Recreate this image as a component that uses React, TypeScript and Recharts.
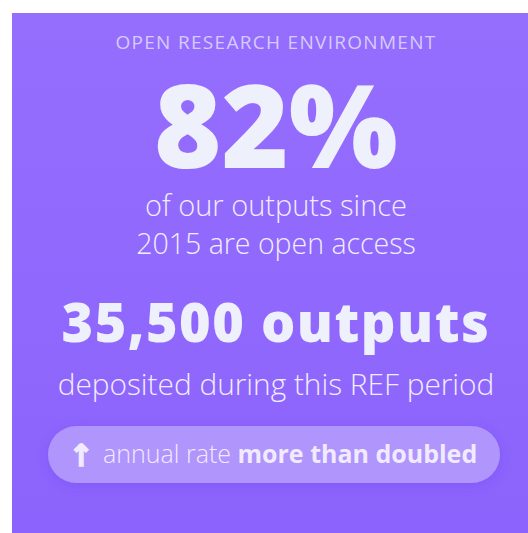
import React from "react";
import { BarChart, Customized } from "recharts";

// ---- content ----
const heading = "OPEN RESEARCH ENVIRONMENT";
const openAccessShare = 82; // percent
const shareCaption = ["of our outputs since", "2015 are open access"];
const outputsDeposited = 35500;
const outputsUnit = "outputs";
const outputsCaption = "deposited during this REF period";
const trendArrow = "\u2191";
const trendPrefix = "annual rate";
const trendEmphasis = "more than doubled";

const W = 528;
const H = 533;
const FONT = "'Open Sans', 'Noto Sans', sans-serif";

const Infographic = () => {
  const cx = 276;
  return (
    <g>
      <defs>
        <linearGradient id="panelGrad" x1="0" y1="0" x2="0" y2="1">
          <stop offset="0%" stopColor="#956efe" />
          <stop offset="100%" stopColor="#8b63fc" />
        </linearGradient>
        <filter id="pillShadow" x="-20%" y="-50%" width="140%" height="200%">
          <feDropShadow dx="0" dy="2" stdDeviation="6" floodColor="#6a3cf0" floodOpacity="0.35" />
        </filter>
      </defs>
      <rect x={12} y={13} width={W} height={H} fill="url(#panelGrad)" />
      <text
        x={cx}
        y={49}
        textAnchor="middle"
        fontFamily={FONT}
        fontSize={19}
        fontWeight={400}
        letterSpacing={1.3}
        fill="#d6cbfb"
      >
        {heading}
      </text>
      <text x={cx} y={168} textAnchor="middle" fontFamily={FONT} fontSize={115} fontWeight={800} fill="#eef0fc">
        {`${openAccessShare}%`}
      </text>
      {shareCaption.map((line, i) => (
        <text
          key={line}
          x={cx}
          y={216 + i * 38}
          textAnchor="middle"
          fontFamily={FONT}
          fontSize={i === 0 ? 29 : 28.5}
          fontWeight={300}
          fill="#f1edfe"
        >
          {line}
        </text>
      ))}
      <text
        x={cx}
        y={342}
        textAnchor="middle"
        fontFamily={FONT}
        fontSize={54}
        fontWeight={800}
        letterSpacing={1.5}
        fill="#eef0fc"
      >
        {`${outputsDeposited.toLocaleString("en-GB")} ${outputsUnit}`}
      </text>
      <text x={cx} y={395} textAnchor="middle" fontFamily={FONT} fontSize={29.8} fontWeight={300} fill="#f1edfe">
        {outputsCaption}
      </text>
      <rect x={48} y={426} width={452} height={57} rx={28.5} fill="#b095fc" filter="url(#pillShadow)" />
      <text
        x={81}
        y={466}
        textAnchor="middle"
        fontFamily="'DejaVu Sans', sans-serif"
        fontSize={30}
        fontWeight={700}
        stroke="#f0ebff"
        strokeWidth={1.4}
        fill="#f0ebff"
      >
        {trendArrow}
      </text>
      <text x={103} y={463} fontFamily={FONT} fontSize={25} fill="#f0ebff">
        <tspan fontWeight={300}>{`${trendPrefix} `}</tspan>
        <tspan fontWeight={700}>{trendEmphasis}</tspan>
      </text>
    </g>
  );
};

export default function App() {
  return (
    <div style={{ width: W, height: H, position: "fixed", left: 0, top: 0, background: "#fff" }}>
      <style>{`html,body{margin:0;padding:0;overflow:hidden;background:#fff}`}</style>
      <BarChart width={W} height={H} data={[]} margin={{ top: 0, right: 0, bottom: 0, left: 0 }}>
        <Customized component={Infographic} />
      </BarChart>
    </div>
  );
}
